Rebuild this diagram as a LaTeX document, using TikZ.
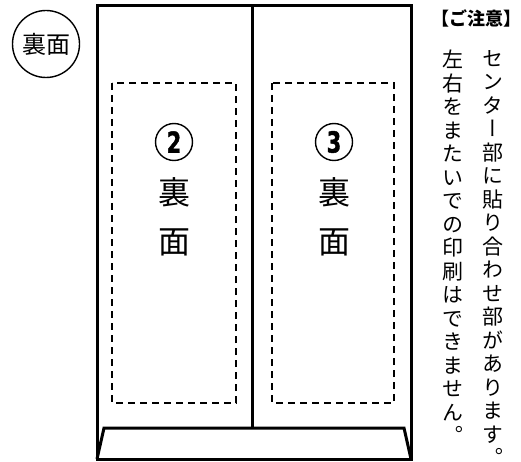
\documentclass[tikz,border=0pt]{standalone}
\usepackage{fontspec}
\newfontfamily\jp{Noto Sans CJK JP}
\newfontfamily\jpv[RawFeature=+vert]{Noto Sans CJK JP}
\newfontfamily\numfont[FakeBold=1.5]{DejaVu Sans Bold}
\usetikzlibrary{positioning}

\tikzset{
  frame/.style={line width=3pt},
  cut/.style={line width=2.2pt,dash pattern=on 7pt off 5pt},
  num/.style={circle,draw,line width=1.4pt,minimum size=37pt,inner sep=0pt,font=\numfont\fontsize{29}{29}\selectfont},
  big/.style={font=\jp\fontsize{32}{32}\selectfont,inner sep=0pt},
  tate/.style={anchor=north,align=center,inner sep=0pt,font=\jpv\fontsize{21}{23.5}\selectfont}
}

\begin{document}
\begin{tikzpicture}[x=1pt,y=-1pt,node distance = 50pt]
\useasboundingbox (0,0) rectangle (521,462);

% outer sheet
\draw[frame] (97,6) rectangle (411,459);
\draw[frame] (252,6) -- (252,428);
\draw[frame] (97,459) -- (104,428) -- (404,428) -- (411,459);

% print areas
\draw[cut] (112,83) rectangle (236,403);
\draw[cut] (272,83) rectangle (394,403);

\node[circle,draw,line width=1.4pt,minimum size=67pt,font=\jp\fontsize{24}{24}\selectfont](0) at (46,44){裏面};

\node[num](1) at (174,142){\scalebox{0.72}[1]{2}};
\node[big](2)[below of = 1]{裏};
\node[big](3)[below of = 2]{面};

\node[num](4) at (334,142){\scalebox{0.72}[1]{3}};
\node[big](5)[below of = 4]{裏};
\node[big](6)[below of = 5]{面};

% note
\node[font=\jp\bfseries\fontsize{18}{18}\selectfont](7) at (476,18){【ご注意】};
\node[tate](8) at (493,50){セ\\ン\\タ\\ー\\部\\に\\貼\\り\\合\\わ\\せ\\部\\が\\あ\\り\\ま\\す\\。};
\node[tate](9) at (453,50){左\\右\\を\\ま\\た\\い\\で\\の\\印\\刷\\は\\で\\き\\ま\\せ\\ん\\。};
\end{tikzpicture}
\end{document}
